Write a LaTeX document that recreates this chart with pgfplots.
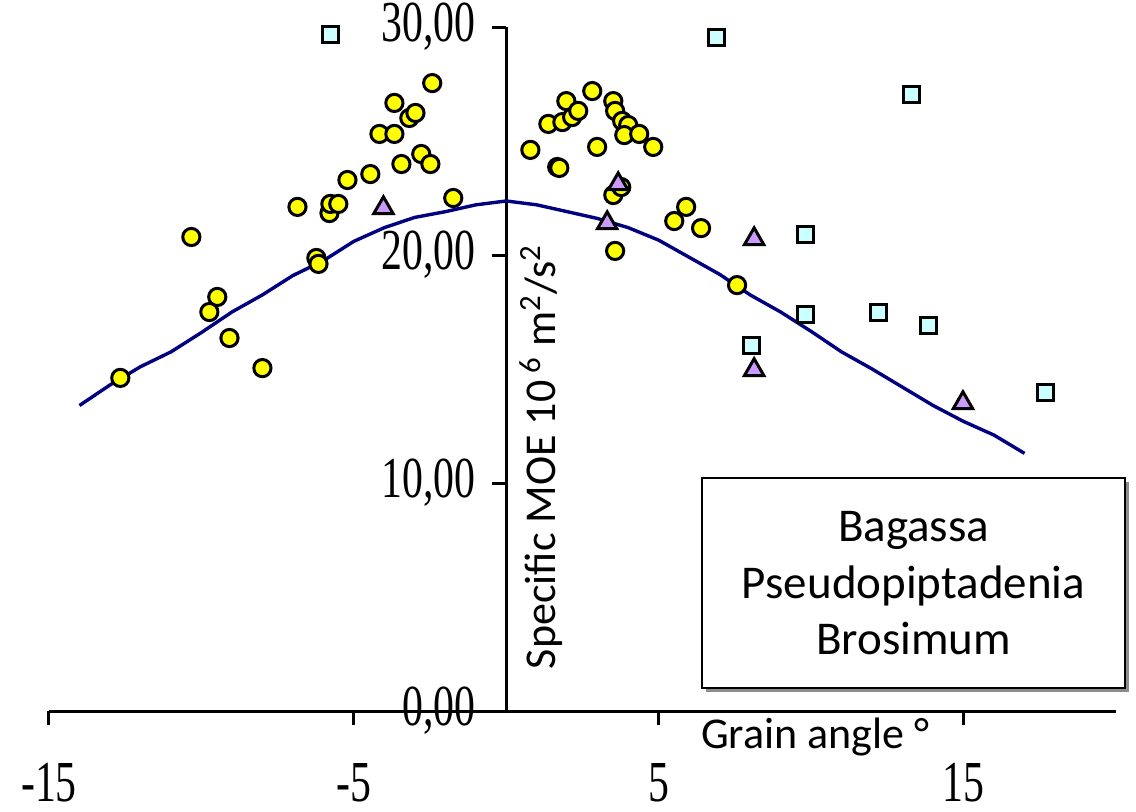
\documentclass[border=0pt]{standalone}
\usepackage{fontspec}
\setmainfont{Carlito}
\newfontfamily\tnr{Liberation Serif}[FakeStretch=0.72]
\usepackage{pgfplots}
\pgfplotsset{compat=1.18}
\usetikzlibrary{shadows}

\definecolor{curveblue}{RGB}{0,0,128}
\definecolor{bagassa}{RGB}{255,255,0}
\definecolor{pseudo}{RGB}{204,255,255}
\definecolor{brosimum}{RGB}{204,153,255}

\begin{document}
\begin{tikzpicture}
\useasboundingbox (-24.5pt,-50pt) rectangle (543.5pt,355.5pt);
\begin{axis}[
    scale only axis,
    width=533.5pt, height=342pt,
    axis lines=middle,
    axis line style={-, line width=1.5pt},
    xmin=-15, xmax=20, ymin=0, ymax=30,
    xtick={-15,-5,5,15},
    xticklabels={-15,-5,5,15},
    ytick={0,10,20,30},
    yticklabels={{0,00},{10,00},{20,00},{30,00}},
    hide obscured x ticks=false,
    hide obscured y ticks=false,
    tick align=outside,
    major tick length=7pt,
    tick style={line width=1.5pt, black},
    tick label style={font=\tnr\fontsize{29}{32}\selectfont},
    xticklabel style={inner sep=0pt, yshift=-19pt},
    yticklabel style={xshift=-5pt},
    clip=false,
  ]
% fitted curve
\addplot[curveblue, line width=1.7pt] coordinates {
  (-14,13.4) (-13,14.3) (-12,15.1) (-11,15.75) (-10,16.6) (-9,17.5)
  (-8,18.25) (-7,19.1) (-6,19.75) (-5,20.6) (-4,21.2) (-3,21.65)
  (-2,21.9) (-1,22.2) (0,22.37) (1,22.2) (2,21.9) (3,21.6) (4,21.2)
  (5,20.65) (6,19.9) (7,19.15) (8,18.25) (9,17.5) (10,16.65) (11,15.75)
  (12,15.0) (13,14.2) (14,13.4) (15,12.7) (16,12.1) (17,11.3)
};
% Bagassa
\addplot[only marks, mark=*, mark size=4.3pt,
  mark options={fill=bagassa, draw=black, line width=1.5pt}] coordinates {
  (-12.66,14.61) (-10.33,20.79) (-9.48,18.16) (-9.74,17.50) (-9.08,16.36)
  (-8.00,15.04) (-6.85,22.11) (-6.23,19.87) (-6.16,19.61) (-5.80,21.84)
  (-5.77,22.24) (-5.51,22.24) (-5.21,23.29) (-4.46,23.55) (-4.16,25.31)
  (-3.67,25.31) (-3.67,26.67) (-3.44,23.99) (-3.18,26.01) (-2.98,26.23)
  (-2.79,24.43) (-2.49,23.99) (-2.43,27.54) (-1.74,22.50)
  (0.79,24.61) (1.38,25.75) (1.67,23.86) (1.74,23.82) (1.84,25.83)
  (1.97,26.75) (2.16,26.05) (2.36,26.32) (2.82,27.19) (2.98,24.74)
  (3.51,26.75) (3.57,26.32) (3.80,25.88) (4.00,25.70) (3.87,25.26)
  (4.36,25.31) (4.82,24.74) (3.51,22.63) (3.77,22.98) (3.57,20.18)
  (5.51,21.49) (5.90,22.11) (6.39,21.18) (7.57,18.68)
};
% Pseudopiptadenia
\addplot[only marks, mark=square*, mark size=4pt,
  mark options={fill=pseudo, draw=black, line width=1.5pt}] coordinates {
  (-5.77,29.69) (6.89,29.56) (13.28,27.06) (9.80,20.88) (9.80,17.37)
  (12.20,17.50) (13.84,16.93) (8.03,16.05) (17.70,13.99)
};
% Brosimum
\addplot[only marks, mark=triangle*, mark size=5.6pt,
  mark options={fill=brosimum, draw=black, line width=1.5pt}] coordinates {
  (-4.03,22.06) (3.67,23.11) (3.31,21.40) (8.13,20.70) (8.13,14.96)
  (14.98,13.51)
};
\node[font=\fontsize{22}{26}\selectfont] at (axis cs:10.13,-1.14) {Grain angle °};
\node[rotate=90, font=\fontsize{22}{26}\selectfont] at (axis cs:1.15,11.14)
  {Specific MOE 10\,\textsuperscript{6} m\textsuperscript{2}/s\textsuperscript{2}};
\node[draw=black, line width=0.75pt, fill=white,
  drop shadow={shadow xshift=2pt, shadow yshift=-2pt, fill=black!45, opacity=1},
  minimum width=211.5pt, minimum height=105pt, align=center,
  font=\fontsize{23.5}{28.25}\selectfont] at (axis cs:13.36,5.61)
  {Bagassa\\Pseudopiptadenia\\Brosimum};
\end{axis}
\end{tikzpicture}
\end{document}
